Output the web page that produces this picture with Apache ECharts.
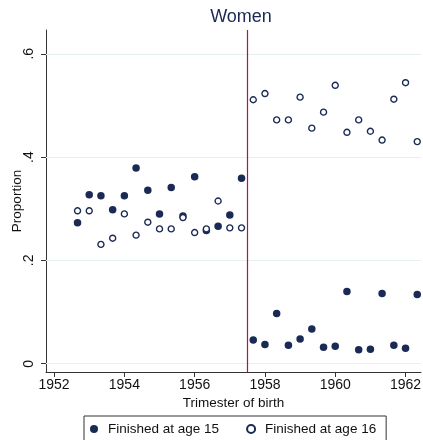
<!DOCTYPE html>
<html>
<head>
<meta charset="utf-8">
<script src="https://cdn.jsdelivr.net/npm/echarts@6/dist/echarts.min.js"></script>
<style>html,body{margin:0;padding:0;background:#fff;}#c{width:423px;height:440px;}</style>
</head>
<body>
<div id="c"></div>
<script>
// Trimester of birth (x positions, in years)
const trimesters = [
  1952.667, 1953.0, 1953.333, 1953.667, 1954.0, 1954.333, 1954.667, 1955.0,
  1955.333, 1955.667, 1956.0, 1956.333, 1956.667, 1957.0, 1957.333,
  1957.667, 1958.0, 1958.333, 1958.667, 1959.0, 1959.333, 1959.667, 1960.0,
  1960.333, 1960.667, 1961.0, 1961.333, 1961.667, 1962.0, 1962.333
];
const finished15 = [
  0.273, 0.327, 0.325, 0.298, 0.325, 0.379, 0.336, 0.290,
  0.341, 0.286, 0.362, 0.258, 0.266, 0.288, 0.359,
  0.046, 0.037, 0.097, 0.036, 0.048, 0.067, 0.032, 0.034,
  0.140, 0.027, 0.028, 0.136, 0.036, 0.030, 0.134
];
const finished16 = [
  0.296, 0.296, 0.231, 0.243, 0.290, 0.249, 0.274, 0.261,
  0.261, 0.283, 0.254, 0.261, 0.315, 0.263, 0.263,
  0.511, 0.523, 0.472, 0.472, 0.516, 0.456, 0.487, 0.539,
  0.448, 0.472, 0.450, 0.433, 0.512, 0.544, 0.430
];
const xTicks = [1952, 1954, 1956, 1958, 1960, 1962];
const yTicks = [0, 0.2, 0.4, 0.6];
const cutoff = 1957.5;
const seriesNames = ['Finished at age 15', 'Finished at age 16'];

const navy = '#1a2a55';
const font = 'Liberation Sans, Arial, sans-serif';
const pairs = (ys) => trimesters.map((x, i) => [x, ys[i]]);

const chart = echarts.init(document.getElementById('c'), null, {renderer: 'canvas'});
chart.setOption({
  animation: false,
  backgroundColor: '#fff',
  title: {
    text: 'Women', left: 236, top: 3, textAlign: 'center',
    textStyle: {fontFamily: font, fontSize: 18, fontWeight: 'normal', color: navy}
  },
  grid: {left: 46, right: 2, top: 30, height: 342, containLabel: false, outerBoundsMode: 'none'},
  legend: {
    left: 84, top: 416, width: 303,
    data: seriesNames,
    borderColor: '#333', borderWidth: 1,
    padding: [6, 10, 8, 6],
    itemWidth: 8, itemHeight: 8, itemGap: 27,
    textStyle: {fontFamily: font, fontSize: 13.5, color: '#111', padding: [0, 0, 0, 5]}
  },
  xAxis: {
    type: 'value', min: 1951.77, max: 1962.44,
    name: 'Trimester of birth', nameLocation: 'middle', nameGap: 24, nameMoveOverlap: false,
    nameTextStyle: {fontFamily: font, fontSize: 13.5, color: '#111'},
    axisLine: {show: true, onZero: false, lineStyle: {color: '#333', width: 1}},
    axisTick: {show: true, length: 5, customValues: xTicks, lineStyle: {color: '#333'}},
    axisLabel: {customValues: xTicks, fontFamily: font, fontSize: 14, color: '#111', margin: 6,
      formatter: v => String(Math.round(v))},
    splitLine: {show: false}
  },
  yAxis: {
    type: 'value', min: -0.016, max: 0.646,
    name: 'Proportion', nameLocation: 'middle', nameGap: 22, nameMoveOverlap: false,
    nameTextStyle: {fontFamily: font, fontSize: 13.5, color: '#111'},
    axisLine: {show: true, onZero: false, lineStyle: {color: '#333', width: 1}},
    axisTick: {show: true, length: 5, customValues: yTicks, lineStyle: {color: '#333'}},
    axisLabel: {
      customValues: yTicks, rotate: 90, margin: 10,
      fontFamily: font, fontSize: 14, color: '#111',
      formatter: v => (Math.abs(v) < 1e-9 ? '0' : String(+v.toFixed(1)).replace(/^0\./, '.'))
    },
    splitLine: {show: false}
  },
  series: [
    {
      name: seriesNames[0], type: 'scatter', symbol: 'circle', symbolSize: 7.5,
      itemStyle: {color: navy, opacity: 1},
      data: pairs(finished15),
      z: 3,
      markLine: {
        silent: true, symbol: ['none', 'none'], label: {show: false},
        lineStyle: {color: '#e6eff1', width: 1, type: 'solid', opacity: 1},
        data: yTicks.map(v => ({yAxis: v})),
        z: 1
      }
    },
    {
      name: seriesNames[1], type: 'scatter', symbol: 'circle', symbolSize: 6,
      itemStyle: {color: '#fff', borderColor: navy, borderWidth: 1.4, opacity: 1},
      data: pairs(finished16),
      z: 4,
      markLine: {
        silent: true, symbol: ['none', 'none'], label: {show: false},
        lineStyle: {color: '#b5123c', width: 1.2, type: 'solid', opacity: 1},
        data: [{xAxis: cutoff}]
      }
    }
  ]
});
</script>
</body>
</html>
